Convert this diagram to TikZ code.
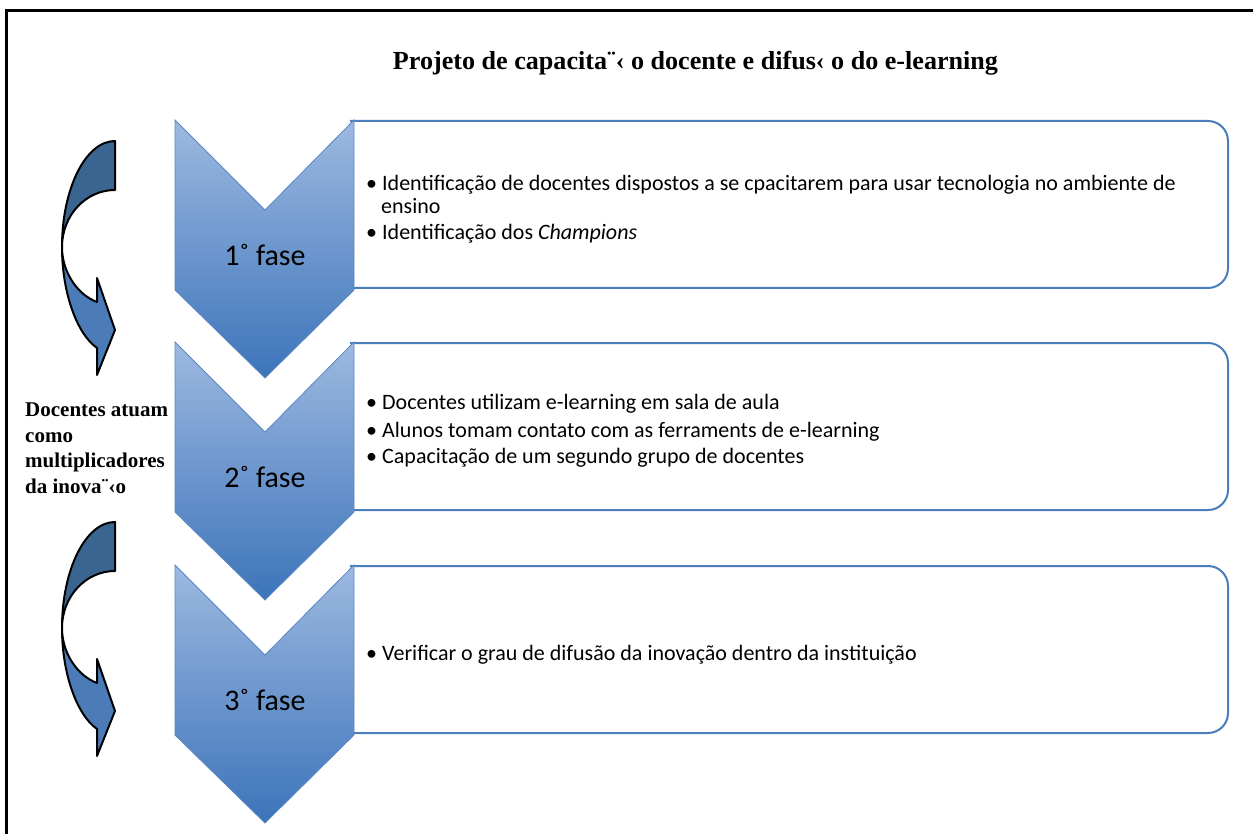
\documentclass[tikz,border=0pt]{standalone}
\usepackage{fontspec}
\setmainfont{Carlito}
\newfontfamily\titlefont{Liberation Serif}

\definecolor{chevtop}{HTML}{9DB9E0}
\definecolor{chevbot}{HTML}{3C74BA}
\definecolor{chevline}{HTML}{5A87C2}
\definecolor{boxline}{HTML}{4A7EBB}
\definecolor{arrowdark}{HTML}{3B6591}
\definecolor{arrowlight}{HTML}{4B7CB8}

\tikzset{
  phasebox/.style={draw=boxline, line width=2pt, fill=white, rounded corners=20pt},
  chevron/.style={draw=chevline, line width=0.8pt, top color=chevtop, bottom color=chevbot},
  phaselabel/.style={font=\fontsize{30}{34}\selectfont, inner sep=0},
  bullet/.style={anchor=base west, inner sep=0, font=\fontsize{22}{26}\selectfont},
  arrowupper/.style={fill=arrowdark, draw=black, line width=2pt, line join=round},
  arrowlower/.style={fill=arrowlight, draw=black, line width=2pt, line join=round},
}
\newcommand\itembullet{\makebox[16pt][l]{•}}

\begin{document}
\begin{tikzpicture}[x=1pt,y=-1pt]
\useasboundingbox (0,0) rectangle (1253,834);

% page frame
\draw[line width=2.2pt] (6.5,834) -- (6.5,10.5) -- (1253,10.5);

% title
\node[anchor=base, inner sep=0, font=\titlefont\bfseries\fontsize{26}{30}\selectfont] (title) at (695.5,70)
  {\resizebox{605pt}{\height}{Projeto de capacita¨‹ o docente e difus‹ o do e-learning}};

% text boxes and chevrons of the three phases
\foreach \t/\n in {120/1,342/2,565/3}{
  \draw[phasebox] (350,\t+1) -- (1228,\t+1) -- (1228,\t+168) -- (350,\t+168);
  \path[chevron] (175,\t) -- (265,\t+90) -- (354,\t) -- (354,\t+170)
       -- (265,\t+258) -- (175,\t+170) -- cycle;
  \node[phaselabel] (phase\n) at (265,\t+135) {\n˚ fase};
}

% phase 1
\node[bullet] (p1a) at (366,191) {\itembullet Identificação de docentes dispostos a se cpacitarem para usar tecnologia no ambiente de};
\node[bullet] (p1b) at (381,213.5) {ensino};
\node[bullet] (p1c) at (366,240) {\itembullet Identificação dos \textit{Champions}};

% phase 2
\node[bullet] (p2a) at (366,409) {\itembullet Docentes utilizam e-learning em sala de aula};
\node[bullet] (p2b) at (366,437) {\itembullet Alunos tomam contato com as ferraments de e-learning};
\node[bullet] (p2c) at (366,463) {\itembullet Capacitação de um segundo grupo de docentes};

% phase 3
\node[bullet] (p3a) at (366,660) {\itembullet Verificar o grau de difusão da inovação dentro da instituição};

% curved arrows on the left
\foreach \dy in {0,381}{
  \begin{scope}[shift={(0,\dy)}]
    \filldraw[arrowupper] (115,141) .. controls (85.7,141) and (62,188.5) .. (62,247)
       .. controls (62,215.5) and (85.7,190) .. (115,190) -- cycle;
    \filldraw[arrowlower] (62,247) .. controls (62,293) and (77,334) .. (97,348)
       -- (97,375) -- (115,330) -- (97,278) -- (97,302)
       .. controls (78,295) and (62,272.7) .. (62,247) -- cycle;
  \end{scope}
}

% side note (base anchor sits on the last line)
\node[anchor=base west, align=left, inner sep=0,
      font=\titlefont\bfseries\fontsize{21}{25.5}\selectfont] (role) at (25,493)
  {Docentes atuam\\como\\multiplicadores\\da inova¨‹o};

\end{tikzpicture}
\end{document}
